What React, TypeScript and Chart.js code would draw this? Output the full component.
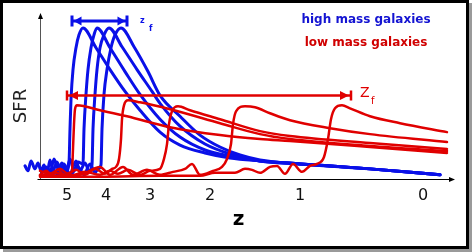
import React, { useEffect, useRef } from "react";
import { Chart, registerables } from "chart.js";

Chart.register(...registerables);

// x = position along the redshift axis (axis units), y = SFR (arbitrary units)
const xTickValues = [67, 106, 150, 210, 300, 423];
const xTickLabels = ["5", "4", "3", "2", "1", "0"];

const xMin = 22;
const xMax = 455;
const yMin = 0;
const yMax = 168;
const axisOriginX = 40;

// high mass galaxies (blue)
const highMass1X = [25, 28, 31, 35, 38, 41, 44, 47, 50, 53, 57, 61, 64, 67, 69, 70, 71, 73, 76, 79, 83, 96, 110, 125, 140, 160, 180, 205, 230, 260, 300, 370, 440];
const highMass1Y = [13, 8, 18, 10, 16, 8, 14, 5, 19, 8, 17, 7, 15, 9, 16, 50, 80, 110, 132, 145, 152, 132, 110, 88, 69, 47, 34, 26, 21, 18, 15, 10, 4];
const highMass2X = [42, 46, 50, 54, 58, 62, 66, 70, 74, 78, 83, 84, 86, 88, 91, 94, 97, 110, 125, 140, 160, 180, 205, 230, 260, 300, 370, 440];
const highMass2Y = [6, 12, 4, 20, 10, 16, 6, 20, 8, 17, 15, 50, 85, 110, 132, 145, 152, 132, 108, 85, 60, 42, 29, 23, 18, 15, 10, 4];
const highMass3X = [45, 52, 58, 64, 70, 76, 80, 85, 89, 92, 93, 95, 97, 100, 104, 109, 122, 137, 152, 160, 180, 205, 230, 260, 300, 370, 440];
const highMass3Y = [4, 10, 4, 14, 5, 18, 8, 16, 8, 14, 50, 85, 110, 132, 145, 152, 133, 110, 88, 76, 53, 35, 25, 18, 15, 10, 4];
const highMass4X = [50, 60, 70, 78, 84, 90, 95, 98, 101, 102, 104, 107, 111, 115, 121, 134, 148, 160, 180, 200, 220, 240, 260, 300, 370, 440];
const highMass4Y = [3, 8, 4, 12, 4, 15, 6, 10, 14, 50, 85, 110, 132, 145, 152, 133, 108, 84, 63, 44, 32, 24, 19, 15, 10, 4];

// low mass galaxies (red)
const lowMass1X = [40, 46, 52, 58, 64, 70, 72, 73, 74, 75, 77, 100, 127, 170, 220, 260, 290, 370, 447];
const lowMass1Y = [4, 8, 4, 9, 4, 6, 8, 30, 55, 70, 74, 69, 63, 52, 44, 40, 38, 32, 26];
const lowMass2X = [40, 50, 60, 68, 76, 85, 95, 105, 112, 116, 119, 121, 122, 124, 128, 140, 170, 220, 260, 290, 370, 447];
const lowMass2Y = [8, 5, 10, 5, 9, 4, 10, 5, 10, 12, 20, 40, 60, 74, 79, 77, 70, 56, 45, 40, 33, 28];
const lowMass3X = [40, 55, 70, 85, 100, 110, 118, 128, 140, 150, 160, 164, 167, 169, 172, 178, 190, 220, 260, 290, 370, 447];
const lowMass3Y = [3, 6, 3, 7, 4, 8, 5, 9, 4, 8, 10, 20, 35, 55, 68, 73, 69, 60, 48, 43, 36, 30];
const lowMass4X = [40, 80, 100, 110, 123, 133, 147, 160, 173, 185, 192, 200, 213, 222, 227, 231, 233, 236, 245, 255, 270, 290, 330, 370, 447];
const lowMass4Y = [3, 4, 12, 4, 12, 4, 9, 4, 7, 10, 15, 4, 8, 12, 20, 35, 55, 68, 73, 72, 66, 59, 51, 45, 37];
const lowMass5X = [40, 100, 160, 200, 215, 235, 245, 252, 260, 270, 277, 285, 293, 302, 310, 317, 324, 328, 331, 335, 342, 350, 370, 400, 447];
const lowMass5Y = [2, 2, 3, 3, 6, 6, 10, 9, 6, 12, 13, 5, 15, 7, 13, 15, 22, 40, 60, 71, 74, 71, 63, 56, 47];

// formation-redshift ranges (axis units) and the SFR level of their arrows
const highMassZfRange = [72, 127];
const highMassZfLevel = 159;
const lowMassZfRange = [67, 351];
const lowMassZfLevel = 84;

const legendLabels = ["high mass galaxies", "low mass galaxies"];

const BLUE = "#0a10e8";
const RED = "#e00000";
const FONT = "'DejaVu Sans', Verdana, sans-serif";

const toPoints = (xs: number[], ys: number[]) => xs.map((x, i) => ({ x, y: ys[i] }));

function drawHArrow(
  ctx: CanvasRenderingContext2D,
  x1: number,
  x2: number,
  y: number,
  color: string,
  lw: number,
  headLen: number,
  headHalf: number,
  barHalf: number,
  leftHead: boolean,
  rightHead: boolean,
  barPad: number
) {
  ctx.save();
  ctx.strokeStyle = color;
  ctx.fillStyle = color;
  ctx.lineWidth = lw;
  ctx.beginPath();
  ctx.moveTo(x1, y);
  ctx.lineTo(x2, y);
  ctx.stroke();
  // end bars
  ctx.beginPath();
  ctx.moveTo(x1, y - barHalf);
  ctx.lineTo(x1, y + barHalf);
  ctx.moveTo(x2, y - barHalf);
  ctx.lineTo(x2, y + barHalf);
  ctx.stroke();
  if (leftHead) {
    const t = x1 + barPad;
    ctx.beginPath();
    ctx.moveTo(t, y);
    ctx.lineTo(t + headLen, y - headHalf);
    ctx.lineTo(t + headLen, y + headHalf);
    ctx.closePath();
    ctx.fill();
  }
  if (rightHead) {
    const t = x2 - barPad;
    ctx.beginPath();
    ctx.moveTo(t, y);
    ctx.lineTo(t - headLen, y - headHalf);
    ctx.lineTo(t - headLen, y + headHalf);
    ctx.closePath();
    ctx.fill();
  }
  ctx.restore();
}

const decorPlugin = {
  id: "decor",
  beforeDraw(chart: any) {
    const ctx = chart.ctx as CanvasRenderingContext2D;
    ctx.save();
    ctx.fillStyle = "#ffffff";
    ctx.fillRect(0, 0, chart.width, chart.height);
    ctx.fillStyle = "#9a9a9a";
    ctx.fillRect(469, 3, 3, 249);
    ctx.fillRect(3, 249, 469, 3);
    ctx.fillStyle = "#000";
    ctx.fillRect(0, 0, 469, 3);
    ctx.fillRect(0, 0, 3, 249);
    ctx.fillRect(466, 0, 3, 249);
    ctx.fillRect(0, 246, 469, 3);
    ctx.restore();
  },
  beforeDatasetsDraw(chart: any) {
    const ctx = chart.ctx as CanvasRenderingContext2D;
    const xs = chart.scales.x;
    const area = chart.chartArea;
    const ox = Math.round(xs.getPixelForValue(axisOriginX)) + 0.5;
    const by = Math.round(area.bottom) + 0.5;
    ctx.save();
    // y axis
    ctx.strokeStyle = "#555";
    ctx.lineWidth = 1;
    ctx.beginPath();
    ctx.moveTo(ox, by);
    ctx.lineTo(ox, area.top + 4);
    ctx.stroke();
    ctx.fillStyle = "#000";
    ctx.beginPath();
    ctx.moveTo(ox, area.top + 1);
    ctx.lineTo(ox - 2.5, area.top + 7);
    ctx.lineTo(ox + 2.5, area.top + 7);
    ctx.closePath();
    ctx.fill();
    // x axis
    ctx.strokeStyle = "#000";
    ctx.beginPath();
    ctx.moveTo(ox - 3, by);
    ctx.lineTo(area.right - 3, by);
    ctx.stroke();
    ctx.beginPath();
    ctx.moveTo(area.right, by);
    ctx.lineTo(area.right - 6, by - 2.5);
    ctx.lineTo(area.right - 6, by + 2.5);
    ctx.closePath();
    ctx.fill();
    // SFR label
    ctx.translate(21, 106);
    ctx.rotate(-Math.PI / 2);
    ctx.fillStyle = "#222";
    ctx.font = `18px ${FONT}`;
    ctx.textAlign = "center";
    ctx.textBaseline = "middle";
    ctx.fillText("SFR", 0, 0);
    ctx.restore();
  },
  afterDatasetsDraw(chart: any) {
    const ctx = chart.ctx as CanvasRenderingContext2D;
    const xs = chart.scales.x;
    const ys = chart.scales.y;
    // blue z_f arrow
    const bx1 = xs.getPixelForValue(highMassZfRange[0]);
    const bx2 = xs.getPixelForValue(highMassZfRange[1]);
    const by = ys.getPixelForValue(highMassZfLevel);
    drawHArrow(ctx, bx1, bx2, by, BLUE, 3, 8, 4.5, 5.5, true, true, 1.5);
    ctx.save();
    ctx.fillStyle = BLUE;
    ctx.font = `bold 8px ${FONT}`;
    ctx.textBaseline = "alphabetic";
    ctx.fillText("z", bx2 + 13, by + 2.5);
    ctx.fillText("f", bx2 + 22, by + 10);
    ctx.restore();
    // red z_f arrow
    const rx1 = xs.getPixelForValue(lowMassZfRange[0]);
    const rx2 = xs.getPixelForValue(lowMassZfRange[1]);
    const ry = ys.getPixelForValue(lowMassZfLevel);
    drawHArrow(ctx, rx1, rx2, ry, RED, 2.5, 9, 4.5, 5, true, true, 2);
    ctx.save();
    ctx.fillStyle = RED;
    ctx.font = `14px ${FONT}`;
    ctx.textBaseline = "alphabetic";
    ctx.fillText("Z", rx2 + 9, ry + 2);
    ctx.font = `10px ${FONT}`;
    ctx.fillText("f", rx2 + 20, ry + 9);
    ctx.restore();
    // legend text
    ctx.save();
    ctx.font = `bold 12px ${FONT}`;
    ctx.textAlign = "center";
    ctx.textBaseline = "alphabetic";
    ctx.fillStyle = "#1414d2";
    ctx.fillText(legendLabels[0], 366, 23);
    ctx.fillStyle = "#d00000";
    ctx.fillText(legendLabels[1], 366, 46);
    ctx.restore();
  },
};

export default function App() {
  const canvasRef = useRef<HTMLCanvasElement | null>(null);

  useEffect(() => {
    const canvas = canvasRef.current;
    if (!canvas) return;
    const line = (xs: number[], ys: number[], color: string, width: number) => ({
      data: toPoints(xs, ys),
      borderColor: color,
      backgroundColor: color,
      borderWidth: width,
      pointRadius: 0,
      cubicInterpolationMode: "monotone" as const,
      fill: false,
      borderCapStyle: "round" as const,
      borderJoinStyle: "round" as const,
    });
    const chart = new Chart(canvas, {
      type: "line",
      data: {
        datasets: [
          line(lowMass1X, lowMass1Y, RED, 2.5),
          line(lowMass2X, lowMass2Y, RED, 2.5),
          line(lowMass3X, lowMass3Y, RED, 2.5),
          line(lowMass4X, lowMass4Y, RED, 2.5),
          line(lowMass5X, lowMass5Y, RED, 2.5),
          line(highMass1X, highMass1Y, BLUE, 3),
          line(highMass2X, highMass2Y, BLUE, 3),
          line(highMass3X, highMass3Y, BLUE, 3),
          line(highMass4X, highMass4Y, BLUE, 3),
        ],
      },
      options: {
        responsive: false,
        animation: false,
        events: [],
        layout: { padding: { left: 22, right: 17, top: 12, bottom: 25 } },
        plugins: { legend: { display: false }, tooltip: { enabled: false } },
        scales: {
          x: {
            type: "linear",
            min: xMin,
            max: xMax,
            grid: { display: false, drawTicks: false },
            border: { display: false },
            afterBuildTicks: (axis: any) => {
              axis.ticks = xTickValues.map((v) => ({ value: v }));
            },
            ticks: {
              padding: 7,
              color: "#111",
              font: { size: 16, family: FONT },
              maxRotation: 0,
              autoSkip: false,
              callback: (_v: any, i: number) => xTickLabels[i],
            },
            title: {
              display: true,
              text: "z",
              color: "#000",
              font: { size: 20, family: FONT, weight: "bold", lineHeight: 0.75 },
              padding: { top: 0, bottom: 0 },
            },
          },
          y: {
            type: "linear",
            display: false,
            min: yMin,
            max: yMax,
          },
        },
      },
      plugins: [decorPlugin],
    });
    return () => chart.destroy();
  }, []);

  return (
    <div style={{ position: "absolute", left: 0, top: 0, width: 472, height: 252 }}>
      <canvas ref={canvasRef} width={472} height={252} style={{ display: "block" }} />
    </div>
  );
}
